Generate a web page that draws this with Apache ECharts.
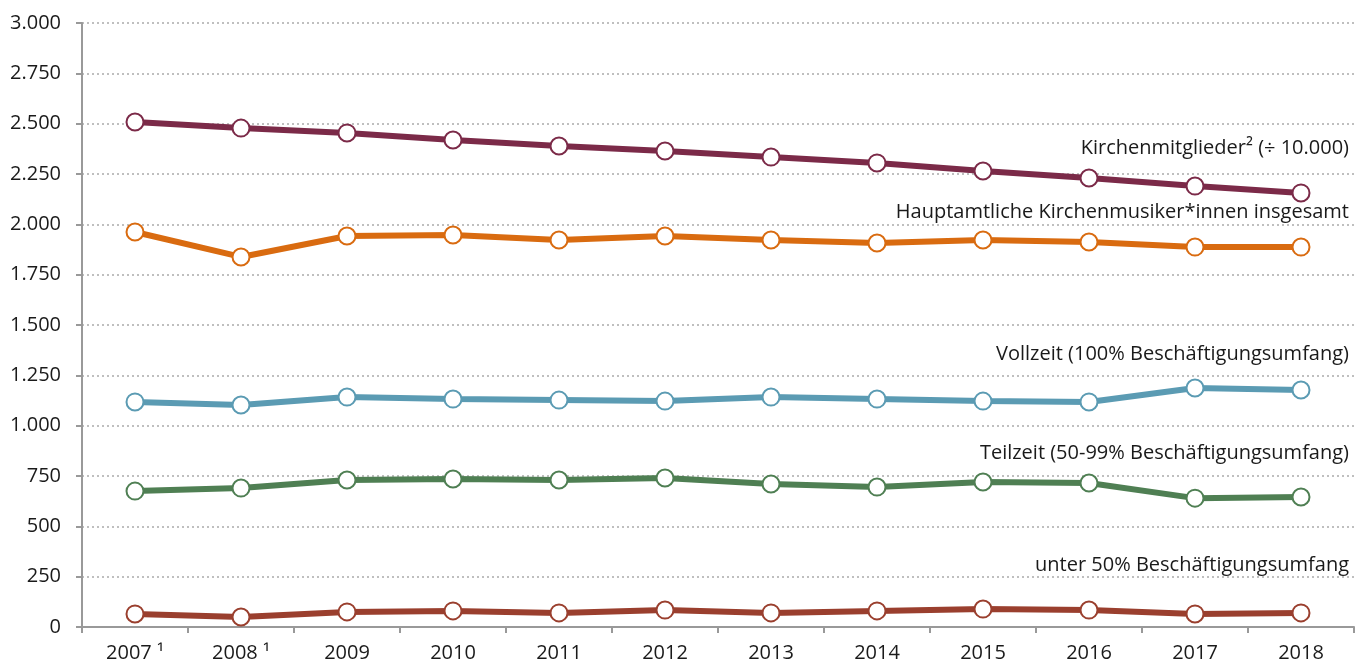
<!DOCTYPE html>
<html><head><meta charset="utf-8">
<script src="https://cdn.jsdelivr.net/npm/echarts@6/dist/echarts.min.js"></script>
<style>html,body{margin:0;padding:0;background:#fff}#c{width:1367px;height:666px}</style>
</head><body><div id="c"></div>
<script>
const years = ['2007','2008','2009','2010','2011','2012','2013','2014','2015','2016','2017','2018'];
const yearNotes = ['¹','¹','','','','','','','','','',''];
const kirchenmitglieder = [2508,2478,2454,2419,2389,2364,2334,2305,2265,2230,2190,2156];
const hauptamtliche = [1962,1838,1942,1947,1922,1942,1922,1907,1922,1912,1887,1887];
const vollzeit = [1118,1103,1142,1132,1127,1122,1142,1132,1122,1118,1187,1177];
const teilzeit = [675,690,730,735,730,740,710,695,720,715,640,646];
const unter50 = [65,50,75,80,70,84,70,80,89,84,65,70];
const seriesNames = ['Kirchenmitglieder² (÷ 10.000)','Hauptamtliche Kirchenmusiker*innen insgesamt','Vollzeit (100% Beschäftigungsumfang)','Teilzeit (50-99% Beschäftigungsumfang)','unter 50% Beschäftigungsumfang'];
const colors = ['#7B2A48','#D96B10','#5B9BB3','#4F7F53','#9A3F2E'];
const dataSets = [kirchenmitglieder,hauptamtliche,vollzeit,teilzeit,unter50];
const labelY = [148,212,354,453,565];

const FONT = '"Open Sans", "Noto Sans", sans-serif';
const chart = echarts.init(document.getElementById('c'));
chart.setOption({
  animation:false,
  grid:{left:82,right:13,top:23,bottom:39,containLabel:false},
  xAxis:{type:'category',data:years,boundaryGap:true,
    axisLine:{lineStyle:{color:'#999',width:2}},
    axisTick:{show:true,length:6,lineStyle:{color:'#999',width:2}},
    axisLabel:{interval:0,fontFamily:FONT,fontSize:20,color:'#1a1a1a',margin:16,
      formatter:(v,i)=> yearNotes[i] ? v+' '+yearNotes[i] : v},
    splitLine:{show:false}},
  yAxis:{type:'value',min:0,max:3000,interval:250,
    axisLine:{show:true,lineStyle:{color:'#999',width:2}},
    axisTick:{show:true,length:6,lineStyle:{color:'#999',width:2}},
    axisLabel:{fontFamily:FONT,fontSize:20,color:'#1a1a1a',margin:21,
      formatter:v=>v>=1000?Math.floor(v/1000)+'.'+String(v%1000).padStart(3,'0'):String(v)},
    splitLine:{show:true,lineStyle:{color:'#aaa',width:1.5,type:[2,3]}}},
  series:dataSets.map((d,i)=>({type:'line',name:seriesNames[i],data:d,
    lineStyle:{color:colors[i],width:6},itemStyle:{color:'#fff',borderColor:colors[i],borderWidth:2},
    symbol:'circle',symbolSize:17,showAllSymbol:true,z:2+i})),
  graphic:seriesNames.map((n,i)=>({type:'text',right:18,top:labelY[i]-10,
    style:{text:n,font:'20px '+FONT,fill:'#1a1a1a',textAlign:'right'}}))
});
</script></body></html>
